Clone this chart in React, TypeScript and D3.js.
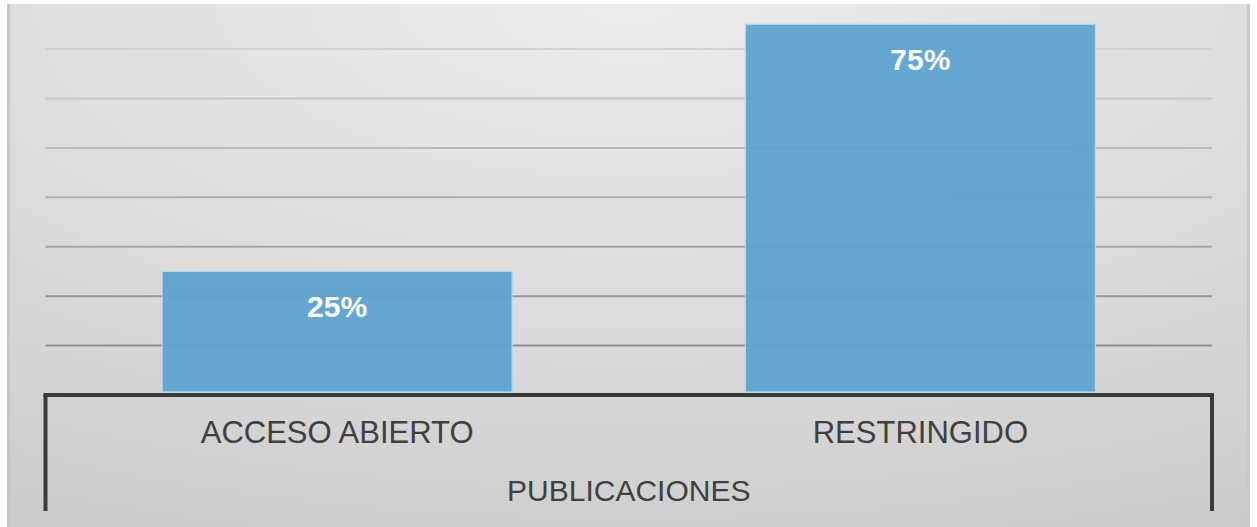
import React from "react";
import * as d3 from "d3";

const categories = ["ACCESO ABIERTO", "RESTRINGIDO"];
const values = [0.25, 0.75];
const valueLabels = ["25%", "75%"];
const gridTicks = [0.1, 0.2, 0.3, 0.4, 0.5, 0.6, 0.7];
const axisTitle = "PUBLICACIONES";

const W = 1257;
const H = 527;

export default function App() {
  const x = d3
    .scaleBand<string>()
    .domain(categories)
    .range([45.5, 1212])
    .paddingInner(0.4)
    .paddingOuter(0.2);
  const y = d3.scaleLinear().domain([0, 0.8]).range([395, -0.4]);
  const gridColor = d3
    .scaleLinear<string>()
    .domain([0.7, 0.1])
    .range(["#d2d2d2", "#8e8e8e"]);
  const font = "'Liberation Sans', Arial, Helvetica, sans-serif";
  const [x0, x1] = x.range();

  return (
    <div style={{ position: "absolute", left: 0, top: 0 }}>
      <svg width={W} height={H} style={{ display: "block" }}>
        <defs>
          <radialGradient id="bg" cx="50%" cy="0%" r="110%" fx="50%" fy="0%">
            <stop offset="0%" stopColor="#ececec" />
            <stop offset="60%" stopColor="#dadada" />
            <stop offset="100%" stopColor="#cbcbcb" />
          </radialGradient>
        </defs>
        <rect x={0} y={0} width={W} height={H} fill="#ffffff" />
        <rect x={7} y={4} width={1243} height={523} fill="url(#bg)" />
        <rect x={7} y={4} width={3} height={523} fill="#c6c6c6" />
        <rect x={1247} y={4} width={3} height={523} fill="#c9c9c9" />
        {gridTicks.map((t) => (
          <line
            key={t}
            x1={x0}
            x2={x1}
            y1={y(t)}
            y2={y(t)}
            stroke={gridColor(t)}
            strokeWidth={2}
          />
        ))}
        {categories.map((c, i) => (
          <g key={c}>
            <rect
              x={x(c)}
              y={y(values[i])}
              width={x.bandwidth()}
              height={y(0) - y(values[i]) - 3}
              fill="#5ba4cf"
              fillOpacity={0.94}
              stroke="#b3d8ef"
              strokeWidth={1.2}
            />
            <text
              x={(x(c) as number) + x.bandwidth() / 2}
              y={y(values[i]) + 45.5}
              textAnchor="middle"
              fill="#ffffff"
              fontFamily={font}
              fontWeight="bold"
              fontSize={30}
            >
              {valueLabels[i]}
            </text>
            <text
              x={(x(c) as number) + x.bandwidth() / 2}
              y={443}
              textAnchor="middle"
              fill="#404040"
              fontFamily={font}
              fontSize={31}
            >
              {c}
            </text>
          </g>
        ))}
        <line x1={x0 - 2} x2={x1 + 2} y1={y(0)} y2={y(0)} stroke="#3a3a3a" strokeWidth={4} />
        <line x1={x0} x2={x0} y1={y(0)} y2={511} stroke="#3a3a3a" strokeWidth={4} />
        <line x1={x1} x2={x1} y1={y(0)} y2={511} stroke="#3a3a3a" strokeWidth={4} />
        <text
          x={(x0 + x1) / 2}
          y={501}
          textAnchor="middle"
          fill="#404040"
          fontFamily={font}
          fontSize={30}
        >
          {axisTitle}
        </text>
      </svg>
    </div>
  );
}
